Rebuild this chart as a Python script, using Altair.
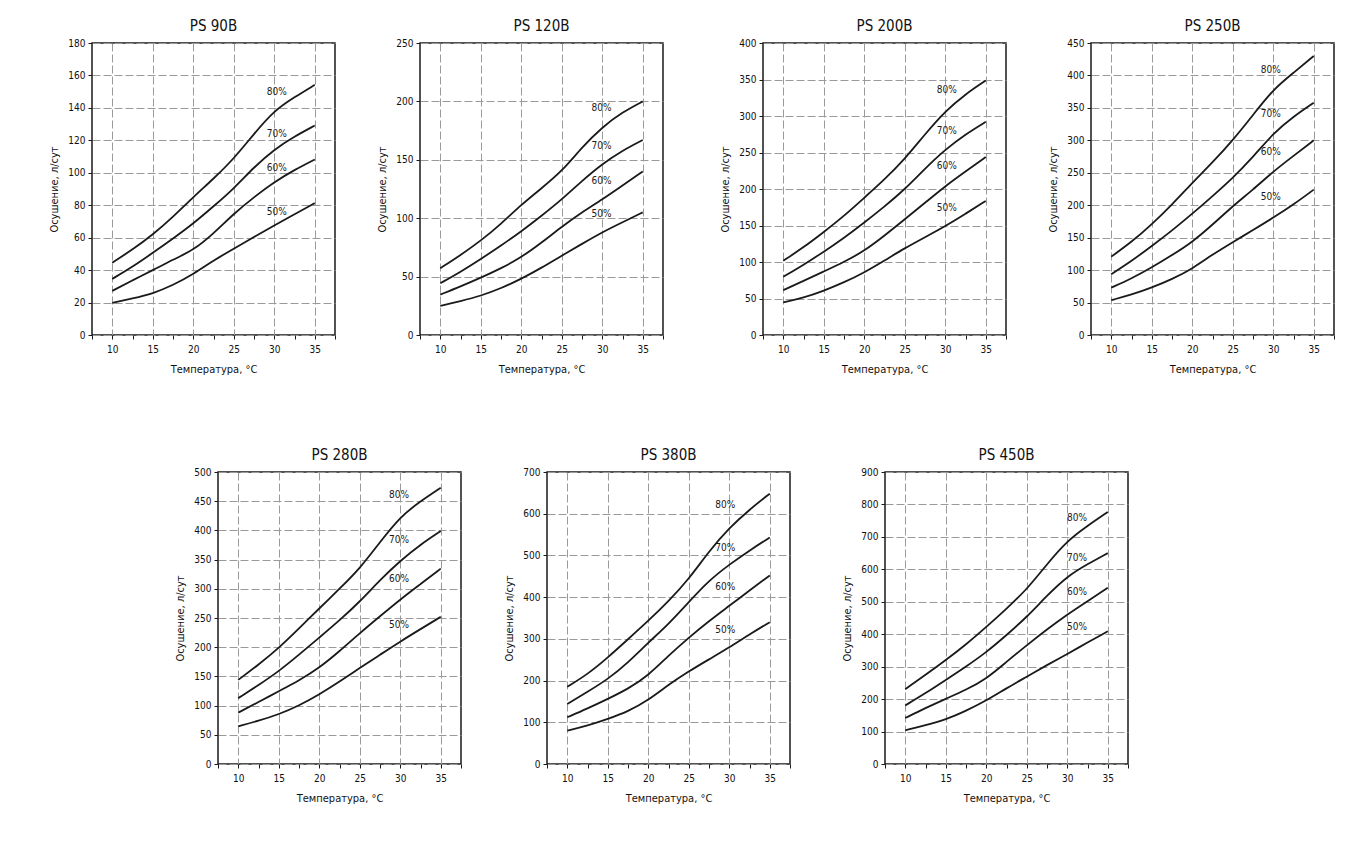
import altair as alt
import pandas as pd

FONT = "DejaVu Sans Condensed, Liberation Sans Narrow, Liberation Sans, sans-serif"

X = [10, 12.5, 15, 17.5, 20, 22.5, 25, 27.5, 30, 32.5, 35]
PCTS = ["80%", "70%", "60%", "50%"]

# Series values (order: 80%, 70%, 60%, 50%)
PS90 = [
    [44.6, 52.6, 61.8, 72.7, 85, 96.3, 108.6, 124, 138.4, 146.6, 154.2],
    [34.6, 42, 50.6, 59.4, 68.6, 79.3, 90.2, 103.5, 114.4, 122.4, 129.1],
    [27.2, 33.7, 39.9, 46.5, 52.2, 62.5, 74.8, 85, 94.3, 101.8, 108.2],
    [19.8, 22.5, 25.5, 30.7, 37.4, 46, 53.2, 60.4, 67.6, 74.4, 81.3],
]
PS120 = [
    [57.2, 68.4, 80.7, 95, 111.6, 125.6, 140, 160.8, 178, 190.8, 200],
    [44.3, 54, 65, 76.5, 88.7, 102, 116, 132, 146.5, 158, 167],
    [34.6, 41.5, 49, 57, 66.4, 79, 92.7, 105, 116, 128, 140],
    [25, 29, 33.5, 40, 48, 57.5, 68, 78, 88, 96.5, 105],
]
PS200 = [
    [101.6, 120, 141, 163, 188, 213, 241, 275, 306.6, 330, 348.5],
    [79.7, 96, 114, 133, 154, 176, 199.5, 228, 254, 275, 292],
    [61.5, 74, 87, 100, 115, 136, 158.5, 181, 204, 224, 243.7],
    [44.6, 51, 60.6, 72, 85.6, 102, 119, 134, 149, 166, 183.6],
]
PS250 = [
    [120.8, 143.3, 170.4, 201, 234.4, 266, 300, 339, 378.7, 404, 430],
    [93.7, 114, 137, 161, 186.8, 214, 242, 274, 311, 336.7, 358],
    [73, 87, 104, 123, 143, 170, 198.6, 224, 252, 276, 300],
    [53.7, 62, 73, 86, 102, 124, 143, 161.7, 180.7, 201, 224],
]
PS280 = [
    [144, 170, 198.4, 232, 266.4, 300, 334.5, 380, 423.5, 450, 473],
    [112.8, 135, 158.7, 187, 216.5, 246, 277.8, 315, 348, 376, 399],
    [87.9, 106, 124.7, 143, 164.4, 193, 224, 253, 281.7, 308, 334.5],
    [64.6, 74, 85, 100, 119, 141, 164.4, 187, 209.7, 231, 252],
]
PS380 = [
    [185, 215, 255, 299, 343, 390, 443, 510, 566, 610, 648],
    [144, 173, 203, 243, 291, 335, 388, 440, 478, 512, 543],
    [112, 133, 156, 180, 212, 260, 303, 343, 379, 416, 452],
    [80, 92, 108, 126, 153, 190, 222, 251, 279, 311, 340],
]
PS450 = [
    [230.6, 274.5, 320, 368, 422, 478.6, 537.8, 616, 688, 734, 776.5],
    [180.6, 218, 259, 300, 344, 397, 453, 519, 578.6, 616, 650],
    [141.8, 172.4, 201, 228.6, 262, 315, 366, 415, 461, 502, 543],
    [104, 119, 136.7, 164, 195, 233.7, 269, 305, 339, 374.5, 409],
]

# Curve label positions (x, [y for 80%, 70%, 60%, 50%])
LAB90 = (30.3, [150, 124, 103, 76])
LAB120 = (29.9, [194, 162, 132, 103.5])
LAB200 = (30.2, [336, 279, 231, 174])
LAB250 = (29.7, [408, 341, 282, 213])
LAB280 = (29.85, [460, 384, 316, 238])
LAB380 = (29.5, [621, 518, 424, 321])
LAB450 = (31.2, [759, 636, 531, 421])

X_TICKS = [7.5, 10, 12.5, 15, 17.5, 20, 22.5, 25, 27.5, 30, 32.5, 35, 37.5]
X_TITLE = "Температура, °C"
Y_TITLE = "Осушение, л/сут"

W, H = 243, 292


def panel(name, ymax, ystep, series, lab):
    rows = []
    for pct, vals in zip(PCTS, series):
        for x, v in zip(X, vals):
            rows.append({"t": x, "v": v, "s": pct})
    df = pd.DataFrame(rows)
    lx, ly = lab
    ldf = pd.DataFrame({"t": [lx] * 4, "v": ly, "s": PCTS})
    xs = alt.Scale(domain=[7.5, 37.5], nice=False, zero=False)
    ys = alt.Scale(domain=[0, ymax], nice=False)
    yvals = list(range(0, ymax + 1, ystep))
    xaxis = alt.Axis(
        values=X_TICKS,
        labelExpr="(datum.value % 5 == 0 && datum.value >= 10 && datum.value <= 35) ? datum.label : ''",
        gridOpacity={"condition": {"test": "datum.value % 5 == 0 && datum.value >= 10 && datum.value <= 35", "value": 1}, "value": 0},
        title=X_TITLE,
        domain=False,
        tickSize=4,
        labelPadding=5,
        titlePadding=9,
        labelFlush=False,
        labelOverlap=False,
    )
    yaxis = alt.Axis(
        values=yvals,
        title=Y_TITLE,
        domain=False,
        tickSize=4,
        labelPadding=3,
        titlePadding=8,
        labelOverlap=False,
    )
    lines = alt.Chart(df).mark_line(
        color="#1a1a1a", strokeWidth=1.8, interpolate="basis"
    ).encode(
        x=alt.X("t:Q", scale=xs, axis=xaxis),
        y=alt.Y("v:Q", scale=ys, axis=yaxis),
        detail="s:N",
    )
    text = alt.Chart(ldf).mark_text(
        font=FONT, fontSize=10, color="#1a1a1a", align="center", baseline="middle"
    ).encode(
        x=alt.X("t:Q", scale=xs, axis=xaxis),
        y=alt.Y("v:Q", scale=ys, axis=yaxis),
        text="s:N",
    )
    return alt.layer(lines, text).properties(
        width=W,
        height=H,
        title=alt.TitleParams(name),
        view=alt.ViewBackground(stroke="#1a1a1a", strokeWidth=1.5),
    )


def spacer(w, h):
    return alt.Chart(pd.DataFrame({"a": [0]})).mark_point(opacity=0).encode(
        x=alt.value(0), y=alt.value(0)
    ).properties(width=w, height=h, view=alt.ViewBackground(stroke="transparent"))


p1 = panel("PS 90B", 180, 20, PS90, LAB90)
p2 = panel("PS 120B", 250, 50, PS120, LAB120)
p3 = panel("PS 200B", 400, 50, PS200, LAB200)
p4 = panel("PS 250B", 450, 50, PS250, LAB250)
p5 = panel("PS 280B", 500, 50, PS280, LAB280)
p6 = panel("PS 380B", 700, 100, PS380, LAB380)
p7 = panel("PS 450B", 900, 100, PS450, LAB450)

top = alt.hconcat(
    alt.hconcat(p1, p2, spacing=39),
    alt.hconcat(p3, p4, spacing=39),
    spacing=54,
)
bottom = alt.hconcat(
    alt.hconcat(spacer(41, 10), p5, p6, spacing=40),
    p7,
    spacing=49,
)

chart = alt.vconcat(top, bottom, spacing=72).properties(
    padding={"left": 40, "top": 10, "right": 5, "bottom": 5}
).configure_axis(
    labelFont=FONT,
    titleFont=FONT,
    labelFontSize=10,
    titleFontSize=11,
    labelColor="#111111",
    titleColor="#111111",
    titleFontWeight="normal",
    tickColor="#1a1a1a",
    gridColor="#9a9a9a",
    gridDash=[8, 3],
    gridWidth=1,
).configure_title(
    font=FONT,
    fontSize=15,
    fontWeight="normal",
    color="#111111",
    anchor="middle",
    offset=4,
).configure_view(stroke="#1a1a1a")

chart.save("out.html", embed_options={"renderer": "svg", "actions": False})
